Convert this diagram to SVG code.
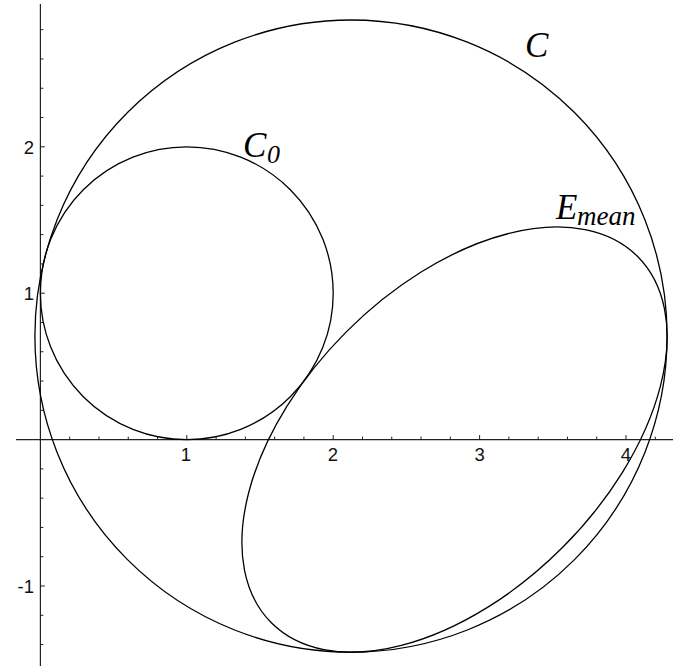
<svg xmlns="http://www.w3.org/2000/svg" width="673" height="666" viewBox="0 0 673 666">
<style>
.curve{fill:none;stroke:#000;stroke-width:1.3}
.axis{fill:none;stroke:#222;stroke-width:1.2}
.tick{fill:none;stroke:#222;stroke-width:1}
.num{font-family:"Liberation Sans",Arial,sans-serif;font-size:18.5px;fill:#111}
.lab{font-family:"Liberation Serif","Times New Roman",serif;font-style:italic;fill:#000}
</style>
<rect width="673" height="666" fill="#fff"/>
<g id="axes">
<line class="axis" x1="16" y1="439.6" x2="673" y2="439.6"/>
<line class="axis" x1="40.4" y1="4" x2="40.4" y2="666"/>
<path class="tick" d="M69.68 439.6v-3M98.96 439.6v-3M128.24 439.6v-3M157.52 439.6v-3M186.8 439.6v-4.5M216.08 439.6v-3M245.36 439.6v-3M274.64 439.6v-3M303.92 439.6v-3M333.2 439.6v-4.5M362.48 439.6v-3M391.76 439.6v-3M421.04 439.6v-3M450.32 439.6v-3M479.6 439.6v-4.5M508.88 439.6v-3M538.16 439.6v-3M567.44 439.6v-3M596.72 439.6v-3M626 439.6v-4.5M655.28 439.6v-3"/>
<path class="tick" d="M40.4 410.32h3M40.4 381.04h3M40.4 351.76h3M40.4 322.48h3M40.4 293.2h4.5M40.4 263.92h3M40.4 234.64h3M40.4 205.36h3M40.4 176.08h3M40.4 146.8h4.5M40.4 117.52h3M40.4 88.24h3M40.4 58.96h3M40.4 29.68h3M40.4 468.88h3M40.4 498.16h3M40.4 527.44h3M40.4 556.72h3M40.4 586h4.5M40.4 615.28h3M40.4 644.56h3"/>
<g class="num" text-anchor="middle">
<text x="186" y="460.5">1</text>
<text x="333" y="460.5">2</text>
<text x="479.6" y="460.5">3</text>
<text x="626" y="460.5">4</text>
</g>
<g class="num" text-anchor="end">
<text x="34" y="299.8">1</text>
<text x="34" y="153.5">2</text>
<text x="34" y="592.7">-1</text>
</g>
</g>
<g id="circle-C">
<circle class="curve" cx="351" cy="336.1" r="316.1"/>
<text class="lab" x="525" y="57" font-size="35">C</text>
</g>
<g id="circle-C0">
<circle class="curve" cx="186.8" cy="293.2" r="146.4"/>
<text class="lab" x="243" y="156.5" font-size="35">C</text>
<text class="lab" x="267" y="163" font-size="26">0</text>
</g>
<g id="ellipse-Emean">
<ellipse class="curve" cx="454.5" cy="439.6" rx="259" ry="152.7" transform="rotate(-45 454.5 439.6)"/>
<text class="lab" x="556" y="218.5" font-size="35">E</text>
<text class="lab" x="577" y="225" font-size="27">mean</text>
</g>
</svg>
